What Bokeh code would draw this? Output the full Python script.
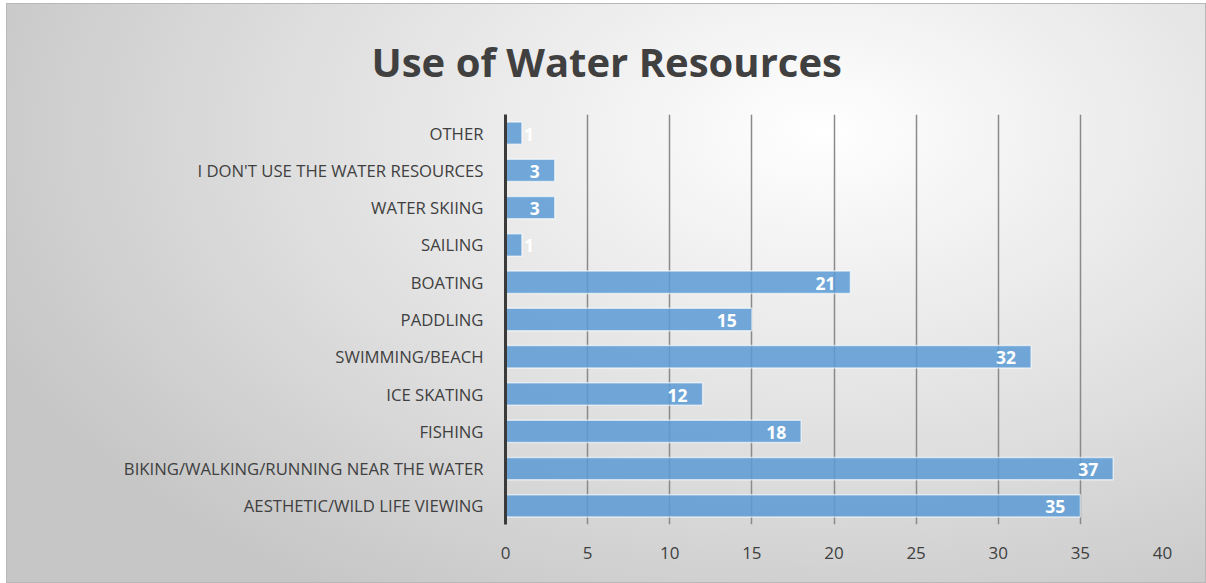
from bokeh.plotting import figure
from bokeh.models import ColumnDataSource, FactorRange, Range1d, FixedTicker
from bokeh.embed import file_html
from bokeh.resources import INLINE
from bokeh.core.properties import value

categories = [
    "AESTHETIC/WILD LIFE VIEWING",
    "BIKING/WALKING/RUNNING NEAR THE WATER",
    "FISHING",
    "ICE SKATING",
    "SWIMMING/BEACH",
    "PADDLING",
    "BOATING",
    "SAILING",
    "WATER SKIING",
    "I DON'T USE THE WATER RESOURCES",
    "OTHER",
]
counts = [35, 37, 18, 12, 32, 15, 21, 1, 3, 3, 1]
x_ticks = [0, 5, 10, 15, 20, 25, 30, 35, 40]

FONT = "Open Sans"
TXT = "#404040"

big = [c for c, v in zip(categories, counts) if v >= 2]
big_v = [v for v in counts if v >= 2]
small = [c for c, v in zip(categories, counts) if v < 2]
small_v = [v for v in counts if v < 2]

src = ColumnDataSource(dict(cat=categories, val=counts))
src_big = ColumnDataSource(dict(cat=big, val=big_v, lab=[str(v) for v in big_v]))
src_small = ColumnDataSource(dict(cat=small, val=small_v, lab=[str(v) for v in small_v]))

p = figure(
    width=1200, height=580,
    y_range=FactorRange(*categories, range_padding=0),
    x_range=Range1d(0, 40),
    output_backend="svg", toolbar_location=None,
    title="Use of Water Resources",
    min_border_left=498, min_border_right=45, min_border_top=110, min_border_bottom=60,
)
p.margin = (3, 0, 0, 6)
p.styles = {
    "background": "radial-gradient(ellipse 75% 95% at 68% 22%, #ffffff 0%, #f1f1f1 25%, #dedede 60%, #c6c6c6 100%)",
    "border": "1px solid #b8b8b8",
    "box-sizing": "border-box",
}
p.border_fill_color = None
p.background_fill_color = None
p.outline_line_color = None

p.title.text_font = FONT
p.title.text_font_size = "40px"
p.title.text_font_style = "bold"
p.title.text_color = TXT
p.title.align = "left"
p.title.offset = -134
p.title.standoff = 52

p.hbar(y="cat", right="val", height=0.6, source=src,
       fill_color="#5B9BD5", fill_alpha=0.85,
       line_color="white", line_alpha=0.6, line_width=1.5)

p.text(x="val", y="cat", text="lab", source=src_big,
       text_align="right", text_baseline="middle", x_offset=-15, y_offset=1,
       text_color="white", text_font=value(FONT), text_font_style="bold",
       text_font_size="17.5px")
p.text(x="val", y="cat", text="lab", source=src_small,
       text_align="left", text_baseline="middle", x_offset=2, y_offset=1,
       text_color="white", text_font=value(FONT), text_font_style="bold",
       text_font_size="17.5px")

p.xaxis.ticker = FixedTicker(ticks=x_ticks)
p.xaxis.axis_line_color = None
p.xaxis.major_tick_line_color = None
p.xaxis.minor_tick_line_color = None
p.xaxis.major_label_text_font = FONT
p.xaxis.major_label_text_font_size = "17px"
p.xaxis.major_label_text_color = TXT
p.xaxis.major_label_standoff = 16

p.yaxis.axis_line_color = "#3a3a3a"
p.yaxis.axis_line_width = 3
p.yaxis.major_tick_line_color = None
p.yaxis.minor_tick_line_color = None
p.yaxis.major_label_text_font = FONT
p.yaxis.major_label_text_font_size = "16.7px"
p.yaxis.major_label_text_color = TXT
p.yaxis.major_label_standoff = 16

p.xgrid.ticker = FixedTicker(ticks=x_ticks)
p.xgrid.grid_line_color = "#8a8a8a"
p.xgrid.grid_line_width = 1.5
p.ygrid.grid_line_color = None

open("out.html", "w").write(file_html(p, INLINE))
